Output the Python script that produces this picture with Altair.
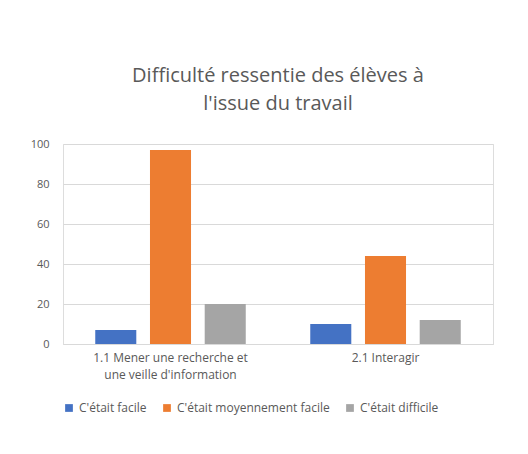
import altair as alt
import pandas as pd

categories = ["1.1 Mener une recherche et|une veille d'information", "2.1 Interagir"]
series = ["C'était facile", "C'était moyennement facile", "C'était difficile"]
facile = [7, 10]
moyen = [97, 44]
difficile = [20, 12]
colors = ["#4472C4", "#ED7D31", "#A5A5A5"]

rows = []
for i, c in enumerate(categories):
    for s, vals in zip(series, [facile, moyen, difficile]):
        rows.append({"cat": c, "serie": s, "val": vals[i]})
df = pd.DataFrame(rows)

font = "Open Sans"
chart = alt.Chart(df).mark_bar().encode(
    x=alt.X("cat:N", sort=categories, title=None,
            scale=alt.Scale(paddingInner=0.3, paddingOuter=0.15),
            axis=alt.Axis(labelAngle=0, labelExpr="split(datum.label, '|')",
                          labelFontSize=12, labelColor="#595959", ticks=False,
                          labelLineHeight=17,
                          domainColor="#D9D9D9", labelPadding=8, labelFont=font)),
    xOffset=alt.XOffset("serie:N", sort=series, scale=alt.Scale(paddingInner=0.25)),
    y=alt.Y("val:Q", title=None, scale=alt.Scale(domain=[0, 100]),
            axis=alt.Axis(values=[0, 20, 40, 60, 80, 100], domain=False, ticks=False,
                          gridColor="#D9D9D9", labelColor="#595959", labelFontSize=11,
                          labelPadding=14, labelFont=font)),
    color=alt.Color("serie:N", sort=series, scale=alt.Scale(domain=series, range=colors),
                    legend=alt.Legend(orient="bottom", title=None, symbolType="square",
                                      symbolSize=60, labelFontSize=12, labelColor="#595959",
                                      labelFont=font, columnPadding=14, offset=22)),
).properties(
    width=430, height=200,
    padding={"top": 58, "left": 22, "right": 10, "bottom": 10},
    title=alt.TitleParams(["Difficulté ressentie des élèves à", "l'issue du travail"],
                          fontSize=20, font=font, fontWeight="normal", color="#595959",
                          lineHeight=28, offset=24),
).configure_view(stroke=None).configure(background="white")

chart.save("out.html", embed_options={"renderer": "svg", "actions": False})
